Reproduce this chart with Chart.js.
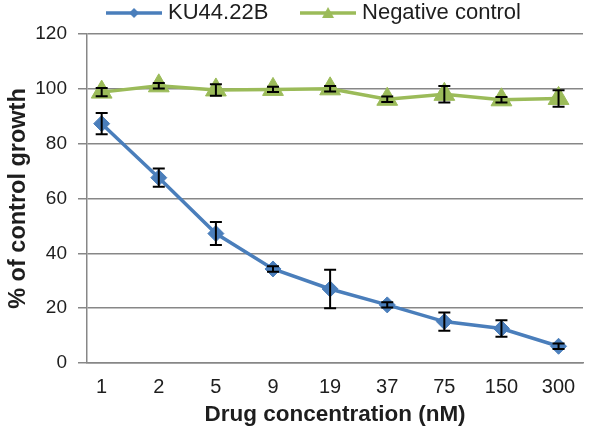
<!DOCTYPE html>
<html>
<head>
<meta charset="utf-8">
<script src="https://cdn.jsdelivr.net/npm/chart.js@4.4.1/dist/chart.umd.min.js"></script>
<style>
html,body{margin:0;padding:0;background:#fff;}
canvas{display:block;}
</style>
</head>
<body>
<canvas id="c" width="596" height="430"></canvas>
<script>
const categories = ['1','2','5','9','19','37','75','150','300'];
const kuValues = [87.3, 67.6, 47.2, 34.3, 27, 21.2, 15.1, 12.6, 6.1];
const kuErrors = [3.9, 3.3, 4.2, 1, 7, 1, 3.3, 3, 1];
const ctrlValues = [98.8, 101.1, 99.6, 99.8, 100, 96.2, 98, 96, 96.5];
const ctrlErrors = [1.5, 1, 2.1, 1, 1, 1, 3, 1, 3];
const yTicks = [0, 20, 40, 60, 80, 100, 120];

const BLUE = '#4a7ebb';
const GREEN = '#9bbb59';
const GRID = '#878787';
const TEXT = '#1e1e1e';

function legendIcon(color, shape) {
  const cv = document.createElement('canvas');
  cv.width = 56; cv.height = 18;
  const g = cv.getContext('2d');
  g.strokeStyle = color; g.lineWidth = 3.5;
  g.beginPath(); g.moveTo(0, 9); g.lineTo(56, 9); g.stroke();
  g.fillStyle = color;
  g.beginPath();
  if (shape === 'diamond') {
    g.moveTo(28, 4); g.lineTo(33, 9); g.lineTo(28, 14); g.lineTo(23, 9);
  } else {
    g.moveTo(28, 3); g.lineTo(34, 14); g.lineTo(22, 14);
  }
  g.closePath(); g.fill();
  return cv;
}

const errorBars = {
  id: 'errorBars',
  afterDatasetsDraw(chart) {
    const ctx = chart.ctx;
    const xs = chart.scales.x, ys = chart.scales.y;
    const sets = [[kuValues, kuErrors], [ctrlValues, ctrlErrors]];
    ctx.save();
    ctx.strokeStyle = '#000';
    ctx.lineWidth = 2;
    sets.forEach(([vals, errs]) => {
      vals.forEach((v, i) => {
        const x = xs.getPixelForValue(i);
        const t = ys.getPixelForValue(v + errs[i]);
        const b = ys.getPixelForValue(v - errs[i]);
        ctx.beginPath();
        ctx.moveTo(x, t); ctx.lineTo(x, b);
        ctx.moveTo(x - 6, t); ctx.lineTo(x + 6, t);
        ctx.moveTo(x - 6, b); ctx.lineTo(x + 6, b);
        ctx.stroke();
      });
    });
    ctx.restore();
  }
};

// shift the legend row slightly right, as in the original layout
const legendShift = {
  id: 'legendShift',
  afterLayout(chart) {
    if (chart.legend) { chart.legend.left += 19; chart.legend.right += 19; }
  }
};

const font = "'Liberation Sans', Arial, sans-serif";
const toPoints = vals => vals.map((v, i) => ({ x: i, y: v }));

new Chart(document.getElementById('c'), {
  type: 'line',
  data: {
    datasets: [
      {
        label: 'KU44.22B',
        data: toPoints(kuValues),
        borderColor: BLUE,
        backgroundColor: BLUE,
        borderWidth: 3.5,
        pointStyle: 'rectRot',
        pointRadius: 8,
        pointBorderWidth: 1,
        pointHoverRadius: 8,
        tension: 0
      },
      {
        label: 'Negative control',
        data: toPoints(ctrlValues),
        borderColor: GREEN,
        backgroundColor: GREEN,
        borderWidth: 3.5,
        pointStyle: 'triangle',
        pointRadius: 12,
        pointBorderWidth: 1,
        pointHoverRadius: 12,
        tension: 0
      }
    ]
  },
  options: {
    responsive: false,
    animation: false,
    events: [],
    layout: { padding: { left: 0, right: 2, top: -34.7, bottom: 0 } },
    plugins: {
      tooltip: { enabled: false },
      legend: {
        position: 'top',
        align: 'center',
        labels: {
          usePointStyle: true,
          pointStyleWidth: 46,
          generateLabels(chart) {
            const icons = [legendIcon(BLUE, 'diamond'), legendIcon(GREEN, 'triangle')];
            return chart.data.datasets.map((d, i) => ({
              text: d.label,
              pointStyle: icons[i],
              fillStyle: d.borderColor,
              strokeStyle: d.borderColor,
              lineWidth: 0,
              datasetIndex: i,
              fontColor: TEXT
            }));
          },
          font: { family: font, size: 22 },
          color: TEXT,
          padding: 36.7
        }
      }
    },
    scales: {
      x: {
        type: 'linear',
        min: -0.257,
        max: 8.428,
        afterBuildTicks(scale) { scale.ticks = categories.map((c, i) => ({ value: i })); },
        afterFit(scale) { scale.height = 67; },
        grid: { display: false, drawTicks: false },
        border: { display: true, color: GRID, width: 1.5 },
        ticks: {
          font: { family: font, size: 20 }, color: TEXT, padding: 12, maxRotation: 0,
          callback: (v) => categories[v]
        },
        title: { display: true, text: 'Drug concentration (nM)', font: { family: font, size: 22.5, weight: 'bold' }, color: TEXT, padding: { top: 0, bottom: 2 } }
      },
      y: {
        min: 0, max: 120,
        afterBuildTicks(scale) { scale.ticks = yTicks.map(v => ({ value: v })); },
        afterFit(scale) { scale.width = 87; },
        grid: { color: GRID, lineWidth: 1.5, tickLength: 9 },
        border: { display: true, color: GRID, width: 1.5 },
        ticks: { font: { family: font, size: 19 }, color: TEXT, padding: 11 },
        title: { display: true, text: '% of control growth', font: { family: font, size: 23.5, weight: 'bold' }, color: TEXT, padding: { top: 4, bottom: 0 } }
      }
    }
  },
  plugins: [errorBars, legendShift]
});
</script>
</body>
</html>
